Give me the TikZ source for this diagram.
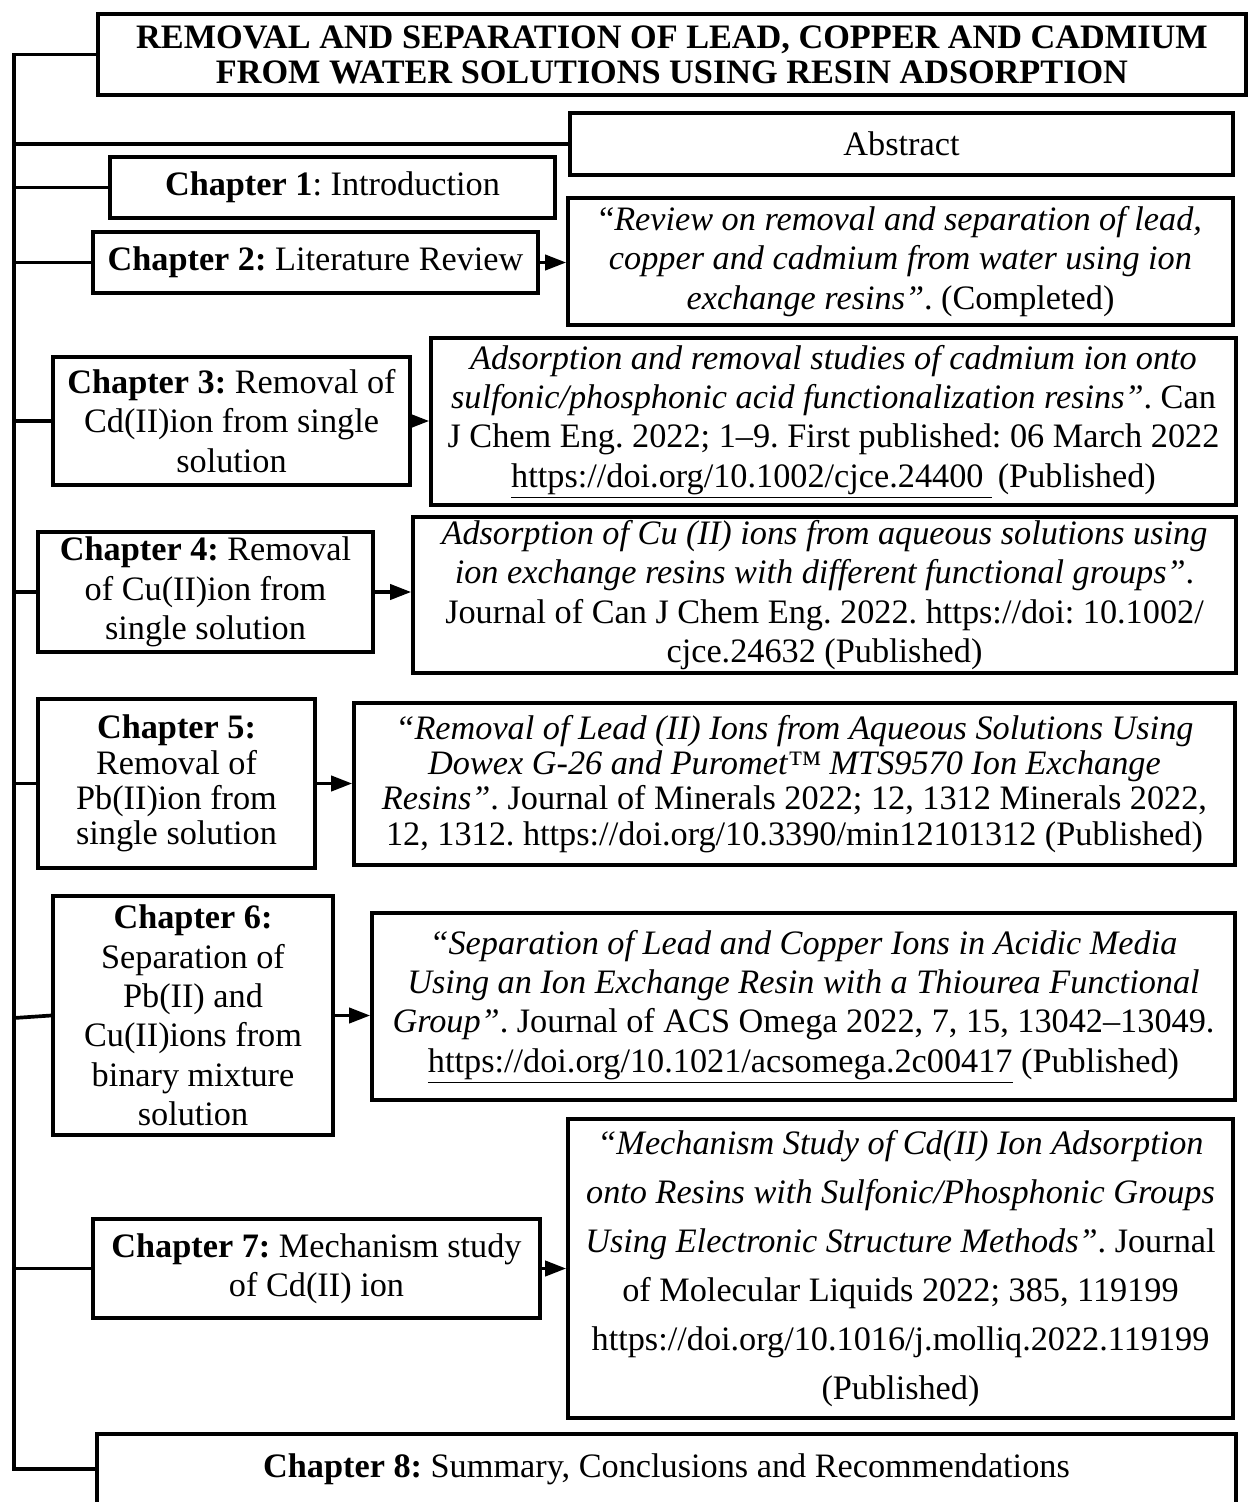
\documentclass[tikz,border=0pt]{standalone}
\usepackage{fontspec}
\setmainfont{Liberation Serif}
\usetikzlibrary{arrows.meta}
\frenchspacing
\tikzset{
 box/.style={draw, line width=2.1pt, align=center, inner sep=2pt,
  font=\fontsize{19.5}{22.4}\selectfont},
 link/.style={line width=2.1pt},
 conn/.style={line width=2.1pt, -{Triangle[length=0.42cm,width=0.3cm]}}
}

\begin{document}
\begin{tikzpicture}[x=0.02cm,y=-0.02cm]
\useasboundingbox (0,0) rectangle (1248,1502);
\coordinate (trunk) at (14,0);

\node[box, minimum width=22.96cm, minimum height=1.62cm, font=\fontsize{19.5}{20}\selectfont\bfseries] (title) at (672,54.5)
 {REMOVAL AND SEPARATION OF LEAD, COPPER AND CADMIUM\\FROM WATER SOLUTIONS USING RESIN ADSORPTION};
\node[box, minimum width=13.26cm, minimum height=1.24cm] (abs) at (901.5,144) {Abstract};

\node[box, minimum width=8.9cm, minimum height=1.22cm] (ch1) at (332.5,187.5) {\textbf{Chapter 1}: Introduction};
\node[box, minimum width=8.9cm, minimum height=1.22cm] (ch2) at (315.5,262.5) {\textbf{Chapter 2:} Literature Review};
\node[box, minimum width=13.3cm, minimum height=2.54cm] (ref2) at (900.5,261.5)
 {“\textit{Review on removal and separation of lead,}\\
  \textit{copper and cadmium from water using ion}\\
  \textit{exchange resins”}. (Completed)};

\node[box, minimum width=7.14cm, minimum height=2.56cm] (ch3) at (231.5,421)
 {\textbf{Chapter 3:} Removal of\\Cd(II)ion from single\\solution};
\node[box, minimum width=16.1cm, minimum height=3.34cm] (ref3) at (833.5,421.5)
 {\textit{Adsorption and removal studies of cadmium ion onto}\\
  \textit{sulfonic/phosphonic acid functionalization resins”}. Can\\
  J Chem Eng. 2022; 1–9. First published: 06 March 2022\\
  \underline{https://doi.org/10.1002/cjce.24400\ }\,(Published)};

\node[box, minimum width=6.7cm, minimum height=2.4cm] (ch4) at (205.5,592)
 {\textbf{Chapter 4:} Removal\\of Cu(II)ion from\\single solution};
\node[box, minimum width=16.46cm, minimum height=3.08cm] (ref4) at (824.5,595)
 {\textit{Adsorption of Cu (II) ions from aqueous solutions using}\\
  \textit{ion exchange resins with different functional groups”}.\\
  Journal of Can J Chem Eng. 2022. https://doi: 10.1002/\\
  cjce.24632 (Published)};

\node[box, minimum width=5.54cm, minimum height=3.38cm, font=\fontsize{19.5}{20}\selectfont] (ch5) at (176.5,783.5)
 {\textbf{Chapter 5:}\\Removal of\\Pb(II)ion from\\single solution};
\node[box, minimum width=17.62cm, minimum height=3.24cm, font=\fontsize{19.5}{20}\selectfont] (ref5) at (794.5,784)
 {\textit{“Removal of Lead (II) Ions from Aqueous Solutions Using}\\
  \textit{Dowex G-26 and Puromet™ MTS9570 Ion Exchange}\\
  \textit{Resins”}. Journal of Minerals 2022; 12, 1312 Minerals 2022,\\
  12, 1312. https://doi.org/10.3390/min12101312 (Published)};

\node[box, minimum width=5.6cm, minimum height=4.78cm] (ch6) at (193,1015.5)
 {\textbf{Chapter 6:}\\Separation of\\Pb(II) and\\Cu(II)ions from\\binary mixture\\solution};
\node[box, minimum width=17.26cm, minimum height=3.74cm] (ref6) at (803.5,1006.5)
 {\textit{“Separation of Lead and Copper Ions in Acidic Media}\\
  \textit{Using an Ion Exchange Resin with a Thiourea Functional}\\
  \textit{Group”}. Journal of ACS Omega 2022, 7, 15, 13042–13049.\\
  \underline{https://doi.org/10.1021/acsomega.2c00417} (Published)};

\node[box, minimum width=8.94cm, minimum height=1.98cm] (ch7) at (316.5,1268.5)
 {\textbf{Chapter 7:} Mechanism study\\of Cd(II) ion};
\node[box, minimum width=13.3cm, minimum height=5.98cm, font=\fontsize{19.5}{27.8}\selectfont] (ref7) at (900.5,1268.5)
 {\textit{“Mechanism Study of Cd(II) Ion Adsorption}\\
  \textit{onto Resins with Sulfonic/Phosphonic Groups}\\
  \textit{Using Electronic Structure Methods”}. Journal\\
  of Molecular Liquids 2022; 385, 119199\\
  https://doi.org/10.1016/j.molliq.2022.119199\\
  (Published)};

\node[box, minimum width=22.78cm, minimum height=1.4cm] (ch8) at (666.5,1469)
 {\textbf{Chapter 8:} Summary, Conclusions and Recommendations};

\draw[link] (title.west) -| (trunk |- ch8.west) -- (ch8.west);
\foreach \n in {abs,ch1,ch2,ch3,ch4,ch5,ch7}
 \draw[link] (trunk |- \n.west) -- (\n.west);
\draw[link] (14,1018) -- (ch6.west);

\draw[conn] (ch2.east) -- (ch2.east -| ref2.west);
\draw[conn] (ch3.east) -- (ch3.east -| ref3.west);
\draw[conn] (ch4.east) -- (ch4.east -| ref4.west);
\draw[conn] (ch5.east) -- (ch5.east -| ref5.west);
\draw[conn] (ch6.east) -- (ch6.east -| ref6.west);
\draw[conn] (ch7.east) -- (ch7.east -| ref7.west);
\end{tikzpicture}
\end{document}
